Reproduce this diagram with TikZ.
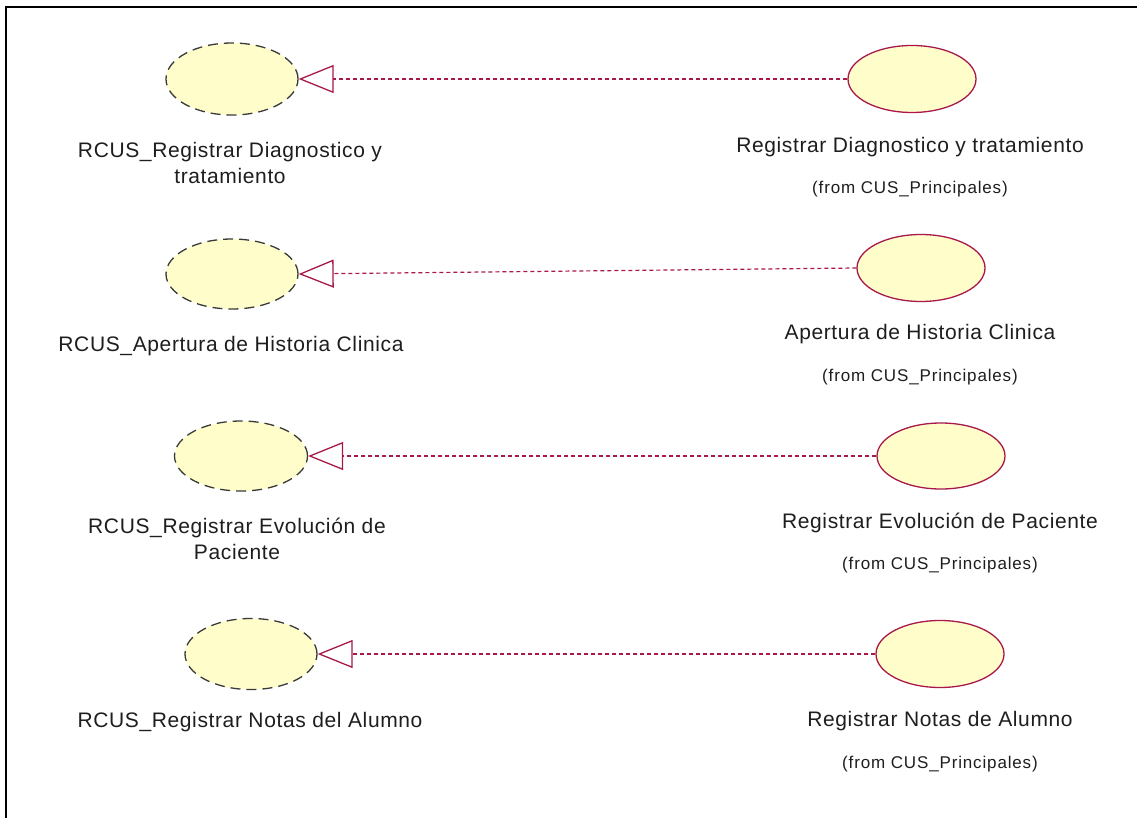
\documentclass[tikz,border=0pt]{standalone}
\usepackage{fontspec}
\setmainfont{Liberation Sans}
\usetikzlibrary{shapes.geometric,arrows.meta}
\definecolor{ucfill}{HTML}{FFFECB}
\definecolor{ucred}{HTML}{A8184A}
\definecolor{ucgray}{HTML}{3A3A3A}
\definecolor{txt}{HTML}{1E1E1E}
\tikzset{
  realuc/.style={ellipse, draw=ucred, fill=ucfill, line width=1.3pt, minimum width=128pt, minimum height=67pt, inner sep=0pt},
  reluc/.style={ellipse, draw=ucgray, fill=ucfill, line width=1.3pt, dash pattern=on 10pt off 6pt, minimum width=132pt, minimum height=71pt, inner sep=0pt},
  realize/.style={draw=ucred, line width=1.2pt, dash pattern=on 4pt off 3pt, -{Triangle[open, length=35pt, width=28pt, line width=1.3pt]}},
  mainlbl/.style={text=txt, align=center, font=\fontsize{21}{26}\selectfont\addfontfeature{LetterSpace=3}, inner sep=0pt},
  fromlbl/.style={text=txt, align=center, font=\fontsize{17}{20}\selectfont\addfontfeature{LetterSpace=5}, inner sep=0pt}
}
\begin{document}
\begin{tikzpicture}[x=1pt,y=-1pt]
\useasboundingbox (0,0) rectangle (1137,818);
\fill[white] (0,0) rectangle (1137,818);
\draw[line width=2.5pt, black] (6,818) -- (6,7) -- (1137,7);

% row 1
\node[reluc, minimum width=132pt, minimum height=72pt] (l1) at (232,79) {};
\node[realuc] (r1) at (912,79) {};
\draw[realize] (r1.west) -- (l1.east);
\node[mainlbl] (l1t) at (230,163) {RCUS\_Registrar Diagnostico y\\tratamiento};
\node[mainlbl] (r1t) at (910,147) {Registrar Diagnostico y tratamiento};
\node[fromlbl] (r1f) at (910,189) {(from CUS\_Principales)};

% row 2
\node[reluc, minimum height=70pt] (l2) at (232,274) {};
\node[realuc] (r2) at (921,268) {};
\draw[realize] (r2.west) -- (l2.east);
\node[mainlbl] (l2t) at (231,346) {RCUS\_Apertura de Historia Clinica};
\node[mainlbl] (r2t) at (920,334) {Apertura de Historia Clinica};
\node[fromlbl] (r2f) at (920,377) {(from CUS\_Principales)};

% row 3
\node[reluc, minimum width=133pt, minimum height=70pt] (l3) at (241,456) {};
\node[realuc, minimum height=66pt] (r3) at (941,456) {};
\draw[realize] (r3.west) -- (l3.east);
\node[mainlbl] (l3t) at (237,539) {RCUS\_Registrar Evolución de\\Paciente};
\node[mainlbl] (r3t) at (940,523) {Registrar Evolución de Paciente};
\node[fromlbl] (r3f) at (940,565) {(from CUS\_Principales)};

% row 4
\node[reluc] (l4) at (251,654) {};
\node[realuc] (r4) at (940,654) {};
\draw[realize] (r4.west) -- (l4.east);
\node[mainlbl] (l4t) at (250,722) {RCUS\_Registrar Notas del Alumno};
\node[mainlbl] (r4t) at (940,721) {Registrar Notas de Alumno};
\node[fromlbl] (r4f) at (940,764) {(from CUS\_Principales)};
\end{tikzpicture}
\end{document}
